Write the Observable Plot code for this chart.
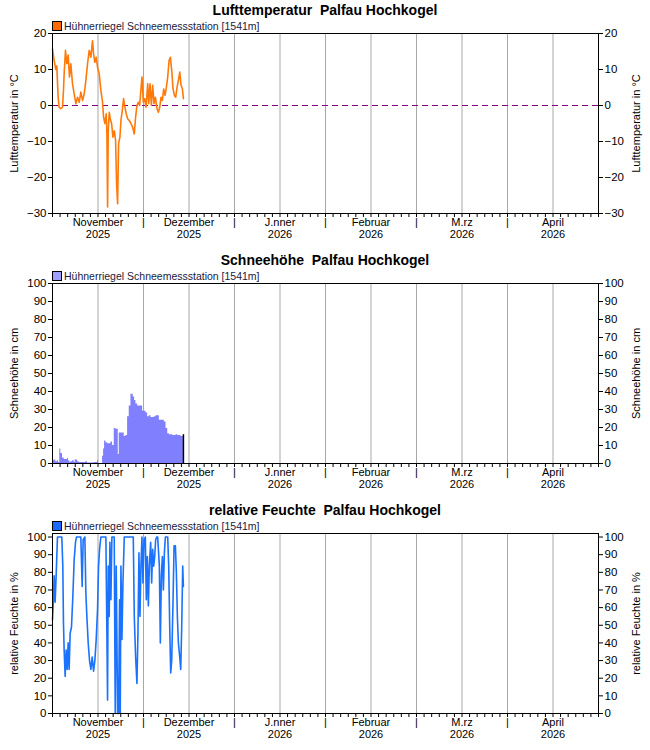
<!DOCTYPE html>
<html>
<head>
<meta charset="utf-8">
<script src="https://cdn.jsdelivr.net/npm/d3@7"></script>
<script src="https://cdn.jsdelivr.net/npm/@observablehq/plot@0.6"></script>
<style>
  body { margin: 0; background: white; font-family: "Liberation Sans", Arial, sans-serif; }
  .panel { position: relative; width: 650px; height: 250px; }
  .title { position: absolute; left: 0; top: 2px; width: 650px; height: 17px; line-height: 17px; text-align: center; font-weight: bold; font-size: 14px; color: #000; }
  .legend { position: absolute; left: 52px; top: 19px; height: 14px; line-height: 14px; font-size: 10.5px; color: #1a1a40; white-space: nowrap; }
  .sw { display: inline-block; width: 8px; height: 8px; border: 1px solid #000; vertical-align: -1px; margin-right: 2px; }
  .chart { position: absolute; left: 0; top: 32px; }
</style>
</head>
<body>
<div id="root"></div>
<script>
// ---- axis data ----
const months = ["November", "Dezember", "J.nner", "Februar", "M.rz", "April"];
const years = ["2025", "2025", "2026", "2026", "2026", "2026"];
const monthDays = [30, 31, 31, 28, 31, 30];
const station = "Hühnerriegel Schneemessstation [1541m]";

// ---- temperature (days since 1 Nov 2025, °C) ----
const tempDay = [0,0.54,1.09,1.42,1.86,2.19,2.74,3.29,3.62,3.84,4.28,4.72,5.16,5.6,6.04,6.6,7.15,7.7,8.25,8.8,9.35,9.9,10.45,11.0,11.55,12.1,12.65,13.2,13.53,13.97,14.41,14.85,15.4,15.73,15.95,16.5,16.83,17.28,17.72,17.94,18.16,18.38,18.71,19.04,19.48,19.92,20.36,20.8,21.13,21.46,21.79,22.23,22.56,23.0,23.44,23.88,24.32,24.76,25.31,25.86,26.41,26.96,27.4,27.84,28.29,28.73,29.17,29.5,29.94,30.4,30.86,31.43,31.77,32.22,32.68,33.13,33.59,34.04,34.61,35.07,35.52,35.98,36.43,36.89,37.34,37.8,38.25,38.71,39.16,39.62,40.07,40.53,40.98,41.44,41.89,42.35,42.8,43.26,43.6];
const tempC = [15.7,12.5,10,11,2.3,-0.5,-0.9,-0.5,4.2,8.8,15.3,11.6,14,7.9,11.6,6,3.2,0.5,2.3,0.9,3.7,1.4,3.2,7,11.6,15.3,13.4,18,14.4,12,13.4,10.6,8.8,6,4.2,0.9,-3.2,-5,-2.3,-7.9,-28.2,-7,-1.9,-3.7,-5,-8.8,-7,-9.7,-21.8,-27.3,-10.6,-8.8,-4.2,-1.4,1.9,-0.5,-2.3,-3.7,-4.2,-5,-6,-7.9,-3.2,0,0.9,0,4.6,7.9,0.9,1.9,-0.5,6,0.5,6,0,5.6,0.5,2.3,-0.9,-1.9,-0.5,2.3,1.4,4.6,2.8,5.1,7.9,12.5,13.4,9.7,4.6,2.8,2.3,5.1,7,9.3,5.6,4.6,1.9];

// ---- snow depth (days since 1 Nov 2025, cm), stepwise ----
const snowDay = [0,0.55,1.1,1.64,1.97,2.4,2.74,3.29,3.84,4.94,5.27,5.71,6.04,6.6,7.14,7.47,8.25,8.8,11,11.55,13.75,14.85,15.18,16.5,16.84,17.17,17.6,18.16,19.26,19.8,20.36,20.9,21.68,22,23.65,24.2,24.76,25.3,25.86,26.63,27.07,27.5,28.07,29.72,30.85,31.42,31.99,32.56,33.7,34.27,35.4,35.97,37.1,37.68,38.25,38.8,39.96,41.09,41.66,42.8,43.6];
const snowCm = [1.5,2,1,1.5,0.5,8,5.5,3,2.2,2.8,1.5,0.5,1,1.5,0.5,2,1,0.5,1,0.3,0.5,1.5,0,4,8,12.5,11.5,11,12,10,19.5,19,5,17,15,15.5,26,32,38.5,37,35,33,32,29,28,26,26.5,25.5,26,26.5,24,24,23,19.5,16.5,16,15.5,16,15.5,15,15];
const snowLast = 16;

// ---- relative humidity (days since 1 Nov 2025, %) ----
const humDay = [0,0.32,0.54,0.87,1.2,1.42,1.64,2.19,3.07,3.4,3.62,3.84,4.17,4.5,4.83,5.16,5.49,5.82,6.26,6.7,7.14,7.58,7.91,9.34,9.78,10.11,10.67,11.0,11.33,11.77,12.21,12.65,13.09,13.53,13.97,14.41,14.85,15.18,15.51,15.95,17.6,17.93,18.15,18.37,18.7,18.92,19.25,19.58,20.35,20.68,21.01,21.46,21.79,22.12,22.34,22.56,22.89,23.22,23.66,24.32,26.63,26.96,27.4,27.84,28.17,28.5,28.83,29.16,29.49,29.82,30.17,30.62,30.96,31.3,31.65,31.99,32.44,32.78,33.12,33.47,33.81,34.15,34.49,34.83,35.4,35.74,36.08,36.43,36.77,37.11,37.45,38.25,38.59,38.93,39.27,39.61,40.07,40.41,40.86,41.2,41.54,41.89,42.34,42.68,43.02,43.36,43.59];
const humPct = [53,64.5,78,63,78,89,100,100,100,83.5,51,36,21,36,25,40,25,45.5,49,66,87,97,100,100,72,98.5,100,68,55,40,30,25,32,24,30,42,59,83.5,93,100,100,45.5,7.6,83.5,55,97,64.5,100,100,0,83.5,0,0,64.5,0,83.5,42,74,100,100,100,55,32,17,45.5,91,55,83.5,100,74,98.5,100,64.5,89,61,83.5,97,74,93,83.5,89,98.5,100,100,83.5,40,78,89,70,91,100,100,83.5,49,23,30,64.5,95,95,80,55,40,32,25,49,83.5,72];

// months on the axis each get equal width
function monthPos(day) {
  let m = 0;
  while (m < monthDays.length - 1 && day >= monthDays[m]) { day -= monthDays[m]; m++; }
  return m + day / monthDays[m];
}

const temp = tempDay.map((d, i) => ({x: monthPos(d), y: tempC[i]}));
const snow = snowDay.map((d, i) => ({x: monthPos(d), y: snowCm[i]}));
const hum = humDay.map((d, i) => ({x: monthPos(d), y: humPct[i]}));

const grid = d3.range(1, 12).map(i => i / 2);
const minor = d3.range(0, 73).map(i => i / 12);

function panel({title, swatch, yDomain, yTicks, yLabel, marks}) {
  const div = document.createElement("div");
  div.className = "panel";
  div.innerHTML = `<div class="title">${title}</div><div class="legend"><span class="sw" style="background:${swatch}"></span>${station}</div>`;
  const chart = Plot.plot({
    width: 650, height: 218,
    marginTop: 1, marginBottom: 37, marginLeft: 52, marginRight: 52,
    style: {fontFamily: "'Liberation Sans', Arial, sans-serif", fontSize: "11px", color: "#000", background: "white", overflow: "visible"},
    x: {domain: [0, 6], axis: null},
    y: {domain: yDomain, axis: null},
    marks: [
      Plot.ruleX(grid, {x: d => d, stroke: "#a8a8a8", strokeWidth: 1, strokeOpacity: 1}),
      ...marks,
      Plot.frame({stroke: "#000", strokeWidth: 1}),
      Plot.axisX({ticks: minor, tickSize: 4, tickFormat: () => "", label: null, stroke: "#000", strokeOpacity: 1}),
      Plot.axisY({anchor: "left", ticks: yTicks, tickSize: 4, tickPadding: 2, label: null, strokeOpacity: 1, fontSize: 11.5}),
      Plot.axisY({anchor: "right", ticks: yTicks, tickSize: 4, tickPadding: 2, label: null, strokeOpacity: 1, fontSize: 11.5}),
      Plot.text([yLabel], {frameAnchor: "left", dx: -38, rotate: -90, textAnchor: "middle", fontSize: 11}),
      Plot.text([yLabel], {frameAnchor: "right", dx: 38, rotate: -90, textAnchor: "middle", fontSize: 11}),
      Plot.text(months, {x: (d, i) => i + 0.5, text: d => d, frameAnchor: "bottom", dy: 12.5, fontSize: 11}),
      Plot.text(years, {x: (d, i) => i + 0.5, text: d => d, frameAnchor: "bottom", dy: 24.5, fontSize: 11}),
      Plot.text(d3.range(1, 6), {x: d => d, text: () => "|", frameAnchor: "bottom", dy: 12.5, fontSize: 11})
    ]
  });
  chart.classList.add("chart");
  div.appendChild(chart);
  document.getElementById("root").appendChild(div);
}

panel({
  title: "Lufttemperatur&nbsp; Palfau Hochkogel",
  swatch: "#ff6a00",
  yDomain: [-30, 20],
  yTicks: [-30, -20, -10, 0, 10, 20],
  yLabel: "Lufttemperatur in °C",
  marks: [
    Plot.ruleY([0], {stroke: "#800080", strokeDasharray: "6,4", strokeWidth: 1}),
    Plot.line(temp, {x: "x", y: "y", stroke: "#ff7a0a", strokeWidth: 1.6})
  ]
});

panel({
  title: "Schneehöhe&nbsp; Palfau Hochkogel",
  swatch: "#a0a0ff",
  yDomain: [0, 100],
  yTicks: d3.range(0, 101, 10),
  yLabel: "Schneehöhe in cm",
  marks: [
    Plot.areaY(snow, {x: "x", y: "y", curve: "step-after", fill: "#8080ff"}),
    Plot.ruleX([snow[snow.length - 1]], {x: "x", y1: 0, y2: snowLast, stroke: "#000", strokeWidth: 1.5})
  ]
});

panel({
  title: "relative Feuchte&nbsp; Palfau Hochkogel",
  swatch: "#1a6cff",
  yDomain: [0, 102],
  yTicks: d3.range(0, 101, 10),
  yLabel: "relative Feuchte in %",
  marks: [
    Plot.line(hum, {x: "x", y: "y", stroke: "#1a72ff", strokeWidth: 1.6})
  ]
});
</script>
</body>
</html>
